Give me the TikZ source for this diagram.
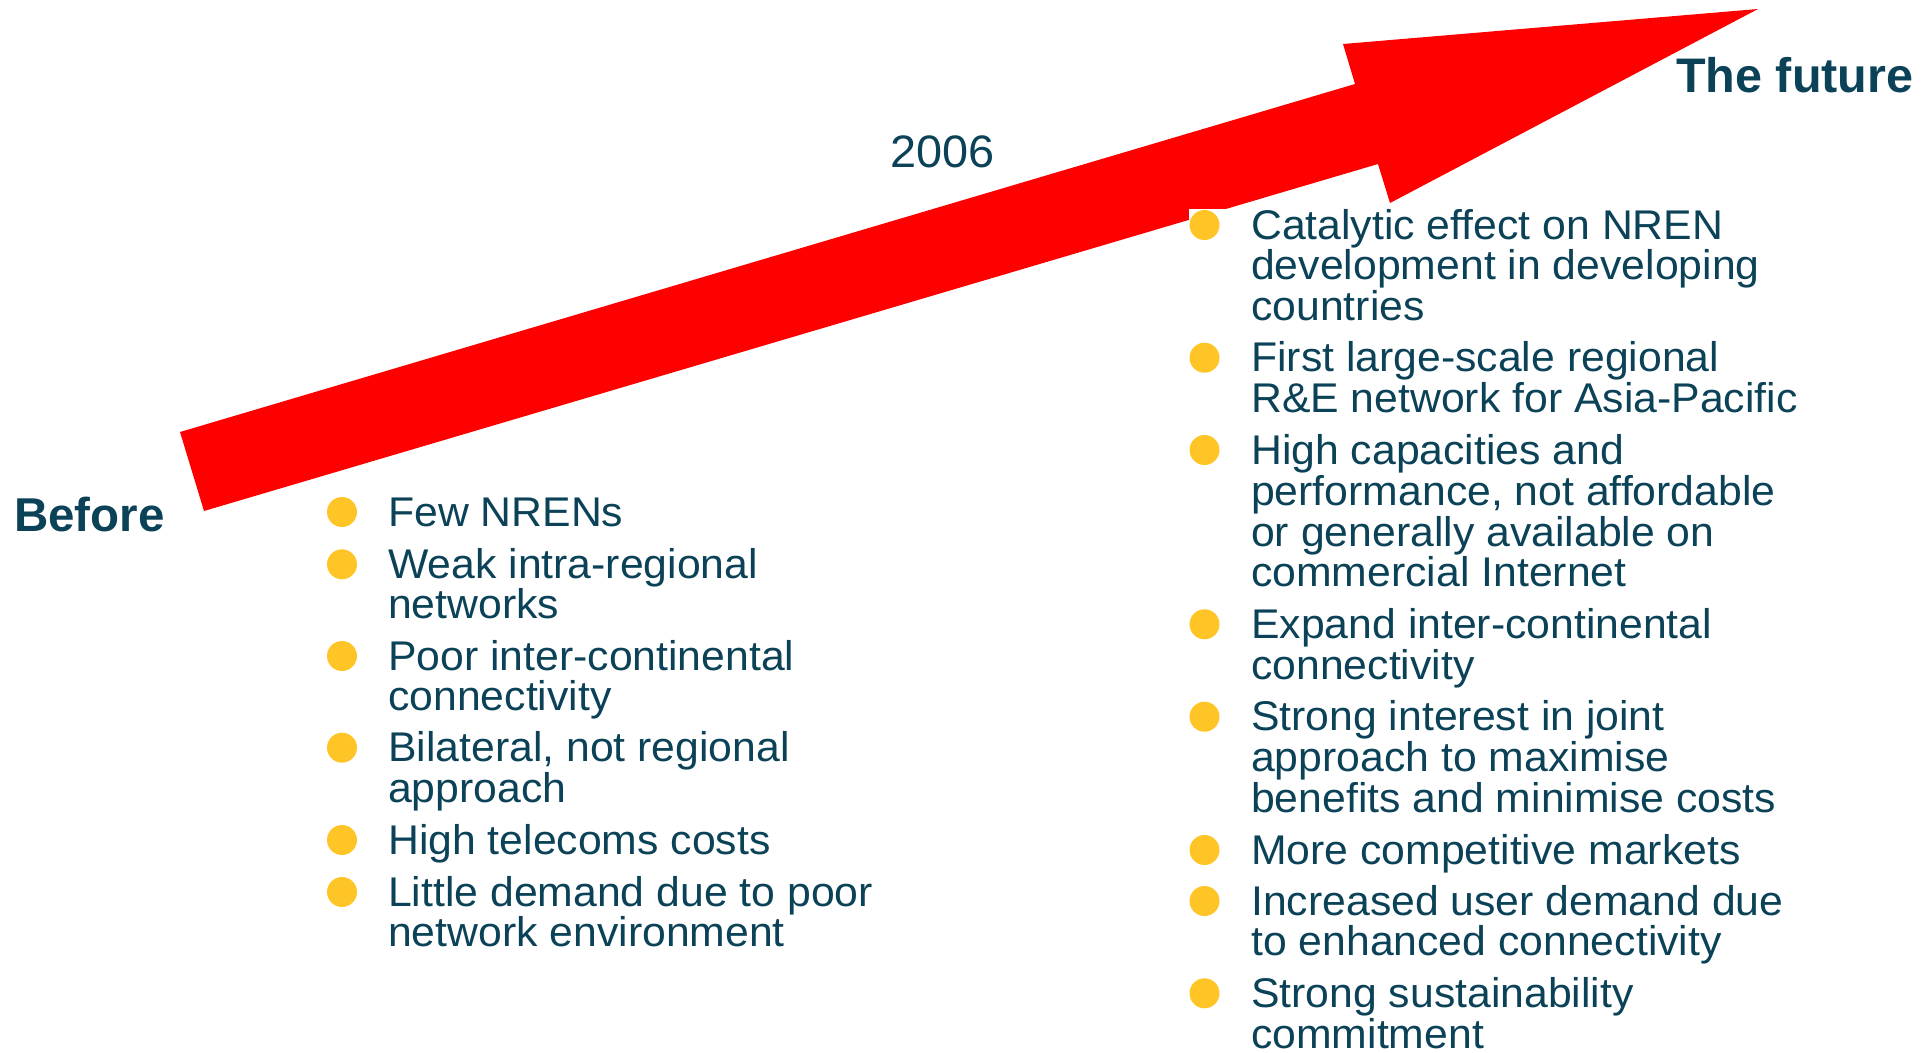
\documentclass[tikz,border=0pt]{standalone}
\usepackage{fontspec}
\setmainfont{Liberation Sans}
\newfontfamily\bodyfont[FakeStretch=1.03]{Liberation Sans}
\definecolor{txtteal}{HTML}{0B4257}
\definecolor{bulletyellow}{HTML}{FFC425}
\definecolor{arrowred}{HTML}{FF0000}
\tikzset{
  bodytext/.style={anchor=base west, inner sep=0pt, text=txtteal, font=\bodyfont\fontsize{41.5}{41.5}\selectfont},
  titletext/.style={anchor=base west, inner sep=0pt, text=txtteal, font=\fontsize{47}{47}\selectfont\bfseries},
  bulletdot/.style={circle, fill=bulletyellow, draw=none, minimum size=30pt, inner sep=0pt}
}
\begin{document}
\begin{tikzpicture}[x=1pt,y=-1pt]
\useasboundingbox (0,0) rectangle (1930,1052);
% arrow
\fill[arrowred] (204,511) -- (1378,164) -- (1390,203) -- (1758,9) -- (1343,44) -- (1355,84) -- (180,432) -- cycle;
% white background of the right text box
\fill[white] (1189,209) rectangle (1240,260);
% titles
\node[titletext, font=\fontsize{47.5}{47.5}\selectfont\bfseries] (before) at (14,531) {Before};
\node[titletext, font=\fontsize{48.5}{48.5}\selectfont\bfseries] (future) at (1676,92.7) {The future};
\node[bodytext, font=\bodyfont\fontsize{45.5}{45.5}\selectfont] (year) at (890,167.3) {2006};
% left list
\node[bulletdot] (lb1) at (342,512) {};
\node[bodytext] (l1a) at (388,526) {Few NRENs};
\node[bulletdot] (lb2) at (342,564.3) {};
\node[bodytext] (l2a) at (388,578.3) {Weak intra-regional};
\node[bodytext] (l2b) at (388,618.3) {networks};
\node[bulletdot] (lb3) at (342,656) {};
\node[bodytext] (l3a) at (388,670) {Poor inter-continental};
\node[bodytext] (l3b) at (388,710) {connectivity};
\node[bulletdot] (lb4) at (342,747.7) {};
\node[bodytext] (l4a) at (388,761.7) {Bilateral, not regional};
\node[bodytext] (l4b) at (388,802.7) {approach};
\node[bulletdot] (lb5) at (342,840) {};
\node[bodytext] (l5a) at (388,854) {High telecoms costs};
\node[bulletdot] (lb6) at (342,892) {};
\node[bodytext] (l6a) at (388,906) {Little demand due to poor};
\node[bodytext] (l6b) at (388,946) {network environment};
% right list
\node[bulletdot] (rb1) at (1204.5,225) {};
\node[bodytext] (r1a) at (1251,239) {Catalytic effect on NREN};
\node[bodytext] (r1b) at (1251,279.3) {development in developing};
\node[bodytext] (r1c) at (1251,320) {countries};
\node[bulletdot] (rb2) at (1204.5,357.7) {};
\node[bodytext] (r2a) at (1251,371.7) {First large-scale regional};
\node[bodytext] (r2b) at (1251,412.7) {R\&E network for Asia-Pacific};
\node[bulletdot] (rb3) at (1204.5,450) {};
\node[bodytext] (r3a) at (1251,464) {High capacities and};
\node[bodytext] (r3b) at (1251,505) {performance, not affordable};
\node[bodytext] (r3c) at (1251,546) {or generally available on};
\node[bodytext] (r3d) at (1251,586.7) {commercial Internet};
\node[bulletdot] (rb4) at (1204.5,624.3) {};
\node[bodytext] (r4a) at (1251,638.3) {Expand inter-continental};
\node[bodytext] (r4b) at (1251,679) {connectivity};
\node[bulletdot] (rb5) at (1204.5,716.7) {};
\node[bodytext] (r5a) at (1251,730.7) {Strong interest in joint};
\node[bodytext] (r5b) at (1251,771.7) {approach to maximise};
\node[bodytext] (r5c) at (1251,812.7) {benefits and minimise costs};
\node[bulletdot] (rb6) at (1204.5,850) {};
\node[bodytext] (r6a) at (1251,864) {More competitive markets};
\node[bulletdot] (rb7) at (1204.5,901) {};
\node[bodytext] (r7a) at (1251,915) {Increased user demand due};
\node[bodytext] (r7b) at (1251,955.7) {to enhanced connectivity};
\node[bulletdot] (rb8) at (1204.5,993.3) {};
\node[bodytext] (r8a) at (1251,1007.3) {Strong sustainability};
\node[bodytext] (r8b) at (1251,1048.3) {commitment};
\end{tikzpicture}
\end{document}
